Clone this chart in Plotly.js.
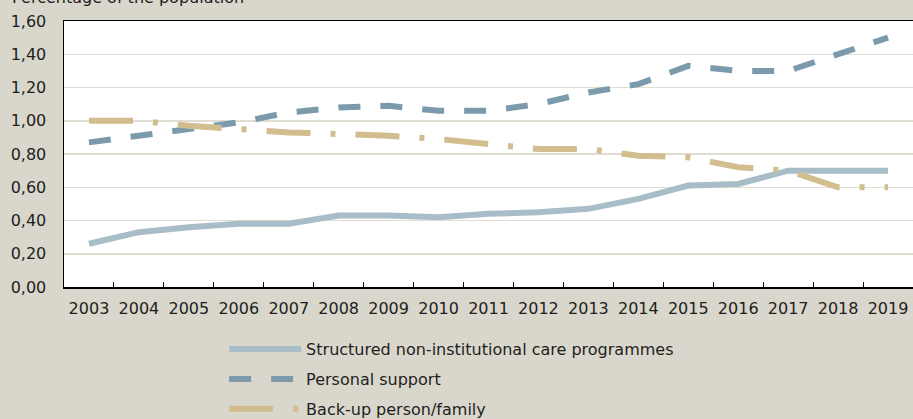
<!DOCTYPE html>
<html>
<head>
<meta charset="utf-8">
<script src="https://cdn.plot.ly/plotly-3.0.1.min.js"></script>
<style>html,body{margin:0;padding:0;background:#D9D7CB;}#chart{width:913px;height:419px;}</style>
</head>
<body>
<div id="chart"></div>
<script>
const years = ["2003","2004","2005","2006","2007","2008","2009","2010","2011","2012","2013","2014","2015","2016","2017","2018","2019"];
const structured = [0.26,0.33,0.36,0.38,0.38,0.43,0.43,0.42,0.44,0.45,0.47,0.53,0.61,0.62,0.70,0.70,0.70];
const personal = [0.87,0.91,0.95,0.99,1.05,1.08,1.09,1.06,1.06,1.10,1.17,1.22,1.33,1.30,1.30,1.40,1.50];
const backup = [1.00,1.00,0.97,0.95,0.93,0.92,0.91,0.89,0.86,0.83,0.83,0.79,0.78,0.72,0.70,0.60,0.60];
const seriesNames = ["Structured non-institutional care programmes","Personal support","Back-up person/family"];
const yTitle = "Percentage of the population";

const font = "DejaVu Sans, sans-serif";
const traces = [
  {x: years, y: structured, name: seriesNames[0], type: "scatter", mode: "lines", legendgroup: "a",
   line: {color: "#A8BDC8", width: 6}},
  {x: years, y: personal, name: seriesNames[1], type: "scatter", mode: "lines", legendgroup: "b",
   line: {color: "#7B9BAC", width: 6, dash: "22px,20px"}},
  {x: years, y: backup, name: seriesNames[2], type: "scatter", mode: "lines", legendgroup: "c",
   line: {color: "#D2BD8F", width: 6, dash: "44px,20px,5px,20px"}}
];
const layout = {
  width: 913, height: 419,
  margin: {l: 63.5, r: 0, t: 21, b: 132, autoexpand: false},
  paper_bgcolor: "#D9D7CB",
  plot_bgcolor: "#FFFFFF",
  font: {family: font, size: 16, color: "#1e1e1e"},
  separators: ",.",
  showlegend: true,
  legend: {orientation: "v", x: 0.1886, xanchor: "left", y: -0.17, yanchor: "top", itemwidth: 72,
           bgcolor: "rgba(0,0,0,0)", font: {size: 16, color: "#1e1e1e"}, tracegroupgap: 6, traceorder: "grouped"},
  xaxis: {type: "category", range: [-0.5, 16.5], tickson: "boundaries", ticks: "inside", ticklen: 5, tickcolor: "#000",
          showline: true, linecolor: "#000", linewidth: 1.5, mirror: true, showgrid: false,
          tickfont: {size: 16}, ticklabelstandoff: 6, fixedrange: true},
  yaxis: {range: [0, 1.6], dtick: 0.2, tickformat: ".2f", showgrid: true, gridcolor: "#E0DDD3", gridwidth: 1.5,
          showline: true, linecolor: "#000", linewidth: 1.5, ticks: "", zeroline: false,
          tickfont: {size: 16}, ticklabelstandoff: 13, fixedrange: true},
  annotations: [{text: yTitle, xref: "paper", yref: "paper", x: -54.5/849.5, xanchor: "left",
                 y: 1, yanchor: "bottom", yshift: 12, showarrow: false, font: {size: 16, color: "#1e1e1e"}}]
};
Plotly.newPlot("chart", traces, layout, {displayModeBar: false, staticPlot: true});
</script>
</body>
</html>
